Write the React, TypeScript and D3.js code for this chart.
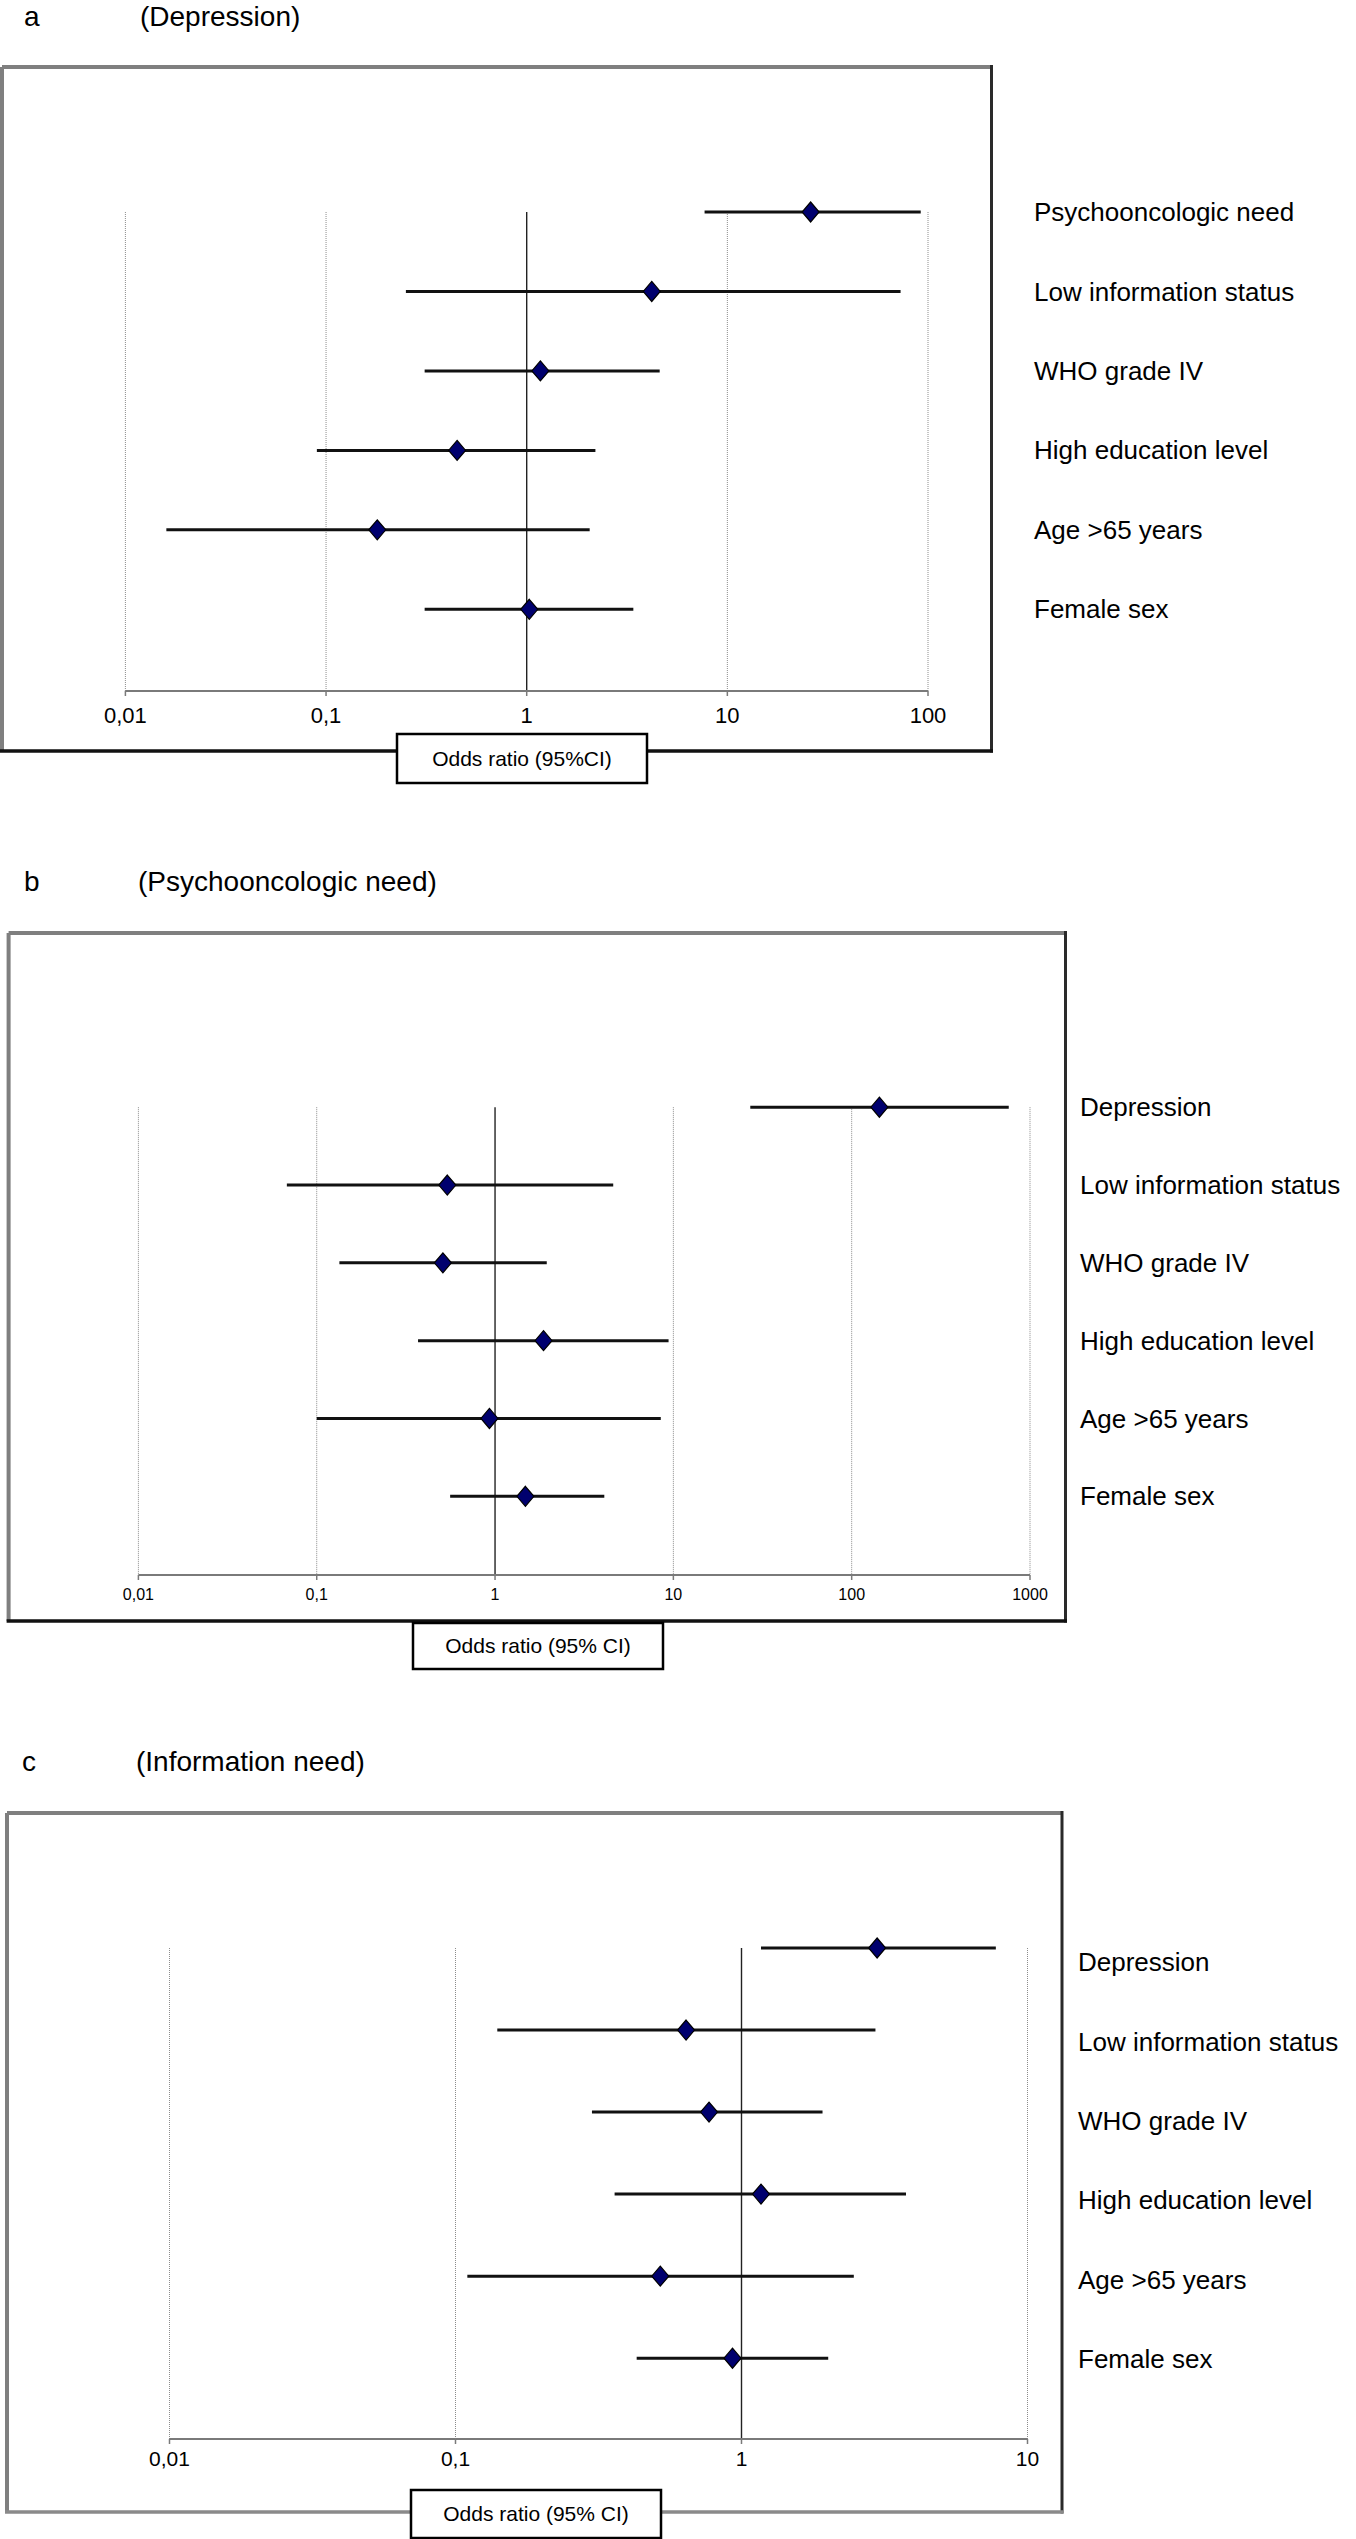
import React from 'react';
import * as d3 from 'd3';

// panel a (Depression)
const rowsA = ['Psychooncologic need', 'Low information status', 'WHO grade IV', 'High education level', 'Age >65 years', 'Female sex'];
const orA = [26, 4.2, 1.17, 0.45, 0.18, 1.03];
const lowA = [7.7, 0.25, 0.31, 0.09, 0.016, 0.31];
const highA = [92, 73, 4.6, 2.2, 2.06, 3.4];
const ticksA = [0.01, 0.1, 1, 10, 100];
const tickLabelsA = ['0,01', '0,1', '1', '10', '100'];

// panel b (Psychooncologic need)
const rowsB = ['Depression', 'Low information status', 'WHO grade IV', 'High education level', 'Age >65 years', 'Female sex'];
const orB = [143, 0.54, 0.51, 1.87, 0.93, 1.48];
const lowB = [27, 0.068, 0.134, 0.37, 0.1, 0.56];
const highB = [760, 4.6, 1.95, 9.4, 8.5, 4.1];
const ticksB = [0.01, 0.1, 1, 10, 100, 1000];
const tickLabelsB = ['0,01', '0,1', '1', '10', '100', '1000'];

// panel c (Information need)
const rowsC = ['Depression', 'Low information status', 'WHO grade IV', 'High education level', 'Age >65 years', 'Female sex'];
const orC = [2.98, 0.64, 0.77, 1.17, 0.52, 0.93];
const lowC = [1.17, 0.14, 0.3, 0.36, 0.11, 0.43];
const highC = [7.75, 2.94, 1.92, 3.76, 2.47, 2.01];
const ticksC = [0.01, 0.1, 1, 10];
const tickLabelsC = ['0,01', '0,1', '1', '10'];

const FONT = '"Liberation Sans", Arial, Helvetica, sans-serif';

type Layout = {
  titleY: number;
  letterX: number;
  subX: number;
  frame: [number, number, number, number];
  bottomColor: string;
  axisY: number;
  xRange: [number, number];
  rowRange: [number, number];
  labelRange: [number, number];
  labelX: number;
  tickFont: number;
  tickLabelY: number;
  box: [number, number, number, number];
};

function Panel(props: {
  letter: string; subtitle: string; rows: string[]; or: number[]; low: number[]; high: number[];
  ticks: number[]; tickLabels: string[]; boxText: string; lay: Layout;
}) {
  const { letter, subtitle, rows, or, low, high, ticks, tickLabels, boxText, lay } = props;
  const x = d3.scaleLog().domain([ticks[0], ticks[ticks.length - 1]]).range(lay.xRange);
  const y = d3.scalePoint<string>().domain(rows).range(lay.rowRange);
  const yl = d3.scalePoint<string>().domain(rows).range(lay.labelRange);
  const [fx1, fy1, fx2, fy2] = lay.frame;
  const [bx, by, bw, bh] = lay.box;
  const gridTop = lay.rowRange[0];

  return (
    <g fontFamily={FONT}>
      <text x={lay.letterX} y={lay.titleY} fontSize={28}>{letter}</text>
      <text x={lay.subX} y={lay.titleY} fontSize={28}>{subtitle}</text>

      {/* bevelled frame */}
      <line x1={fx1} y1={fy1} x2={fx2} y2={fy1} stroke="#7f7f7f" strokeWidth={4} />
      <line x1={fx1} y1={fy1} x2={fx1} y2={fy2} stroke="#7f7f7f" strokeWidth={4} />
      <line x1={fx2} y1={fy1 - 2} x2={fx2} y2={fy2 + 1.5} stroke="#2a2a2a" strokeWidth={3} />
      <line x1={fx1 - 2} y1={fy2} x2={fx2 + 1.5} y2={fy2} stroke={lay.bottomColor} strokeWidth={3.5} />

      {/* grid */}
      {ticks.map((t) => (
        <line key={'g' + t} x1={x(t)} x2={x(t)} y1={gridTop} y2={lay.axisY}
          stroke={t === 1 ? '#222' : '#8c8c8c'} strokeWidth={t === 1 ? 1.4 : 1}
          strokeDasharray={t === 1 ? undefined : '1,1'} />
      ))}

      {/* axis */}
      <line x1={lay.xRange[0]} x2={lay.xRange[1]} y1={lay.axisY} y2={lay.axisY} stroke="#7a7a7a" strokeWidth={2} />
      {ticks.map((t, i) => (
        <g key={'t' + t}>
          <line x1={x(t)} x2={x(t)} y1={lay.axisY} y2={lay.axisY + 5} stroke="#7a7a7a" strokeWidth={1.5} />
          <text x={x(t)} y={lay.tickLabelY} fontSize={lay.tickFont} textAnchor="middle">{tickLabels[i]}</text>
        </g>
      ))}

      {/* CI bars and estimates */}
      {rows.map((r, i) => {
        const cy = y(r) as number;
        const cx = x(or[i]);
        return (
          <g key={r}>
            <line x1={x(low[i])} x2={x(high[i])} y1={cy} y2={cy} stroke="#111" strokeWidth={3} />
            <path d={`M${cx},${cy - 10}L${cx + 8.5},${cy}L${cx},${cy + 10}L${cx - 8.5},${cy}Z`}
              fill="#00006e" stroke="#000" strokeWidth={1.2} />
          </g>
        );
      })}

      {/* row labels */}
      {rows.map((r) => (
        <text key={'l' + r} x={lay.labelX} y={yl(r) as number} dy="0.35em" fontSize={26}>{r}</text>
      ))}

      {/* axis title box */}
      <rect x={bx} y={by} width={bw} height={bh} fill="#fff" stroke="#000" strokeWidth={2.5} />
      <text x={bx + bw / 2} y={by + bh / 2} dy="0.35em" fontSize={21} textAnchor="middle">{boxText}</text>
    </g>
  );
}

const layA: Layout = {
  titleY: 26, letterX: 24, subX: 140,
  frame: [2, 67, 991.5, 751], bottomColor: '#111',
  axisY: 691, xRange: [125.4, 928], rowRange: [212, 609.3], labelRange: [212, 609.3], labelX: 1034,
  tickFont: 22, tickLabelY: 723, box: [397, 734, 250, 49],
};

const layB: Layout = {
  titleY: 891, letterX: 24, subX: 138,
  frame: [8.6, 933, 1065.5, 1621], bottomColor: '#111',
  axisY: 1575, xRange: [138.4, 1030], rowRange: [1107.2, 1496.3], labelRange: [1107.2, 1496.3], labelX: 1080,
  tickFont: 16, tickLabelY: 1600, box: [413, 1623, 250, 46],
};

const layC: Layout = {
  titleY: 1771, letterX: 22, subX: 136,
  frame: [7, 1813, 1062, 2512], bottomColor: '#8a8a8a',
  axisY: 2439, xRange: [169.5, 1027.5], rowRange: [1948, 2358.2], labelRange: [1962, 2359.3], labelX: 1078,
  tickFont: 21, tickLabelY: 2466, box: [411, 2490, 250, 48],
};

export default function App() {
  return (
    <svg width={1356} height={2539} style={{ position: 'absolute', left: 0, top: 0, background: '#fff' }}>
      <rect width={1356} height={2539} fill="#fff" />
      <Panel letter="a" subtitle="(Depression)" rows={rowsA} or={orA} low={lowA} high={highA}
        ticks={ticksA} tickLabels={tickLabelsA} boxText="Odds ratio (95%CI)" lay={layA} />
      <Panel letter="b" subtitle="(Psychooncologic need)" rows={rowsB} or={orB} low={lowB} high={highB}
        ticks={ticksB} tickLabels={tickLabelsB} boxText="Odds ratio (95% CI)" lay={layB} />
      <Panel letter="c" subtitle="(Information need)" rows={rowsC} or={orC} low={lowC} high={highC}
        ticks={ticksC} tickLabels={tickLabelsC} boxText="Odds ratio (95% CI)" lay={layC} />
    </svg>
  );
}
